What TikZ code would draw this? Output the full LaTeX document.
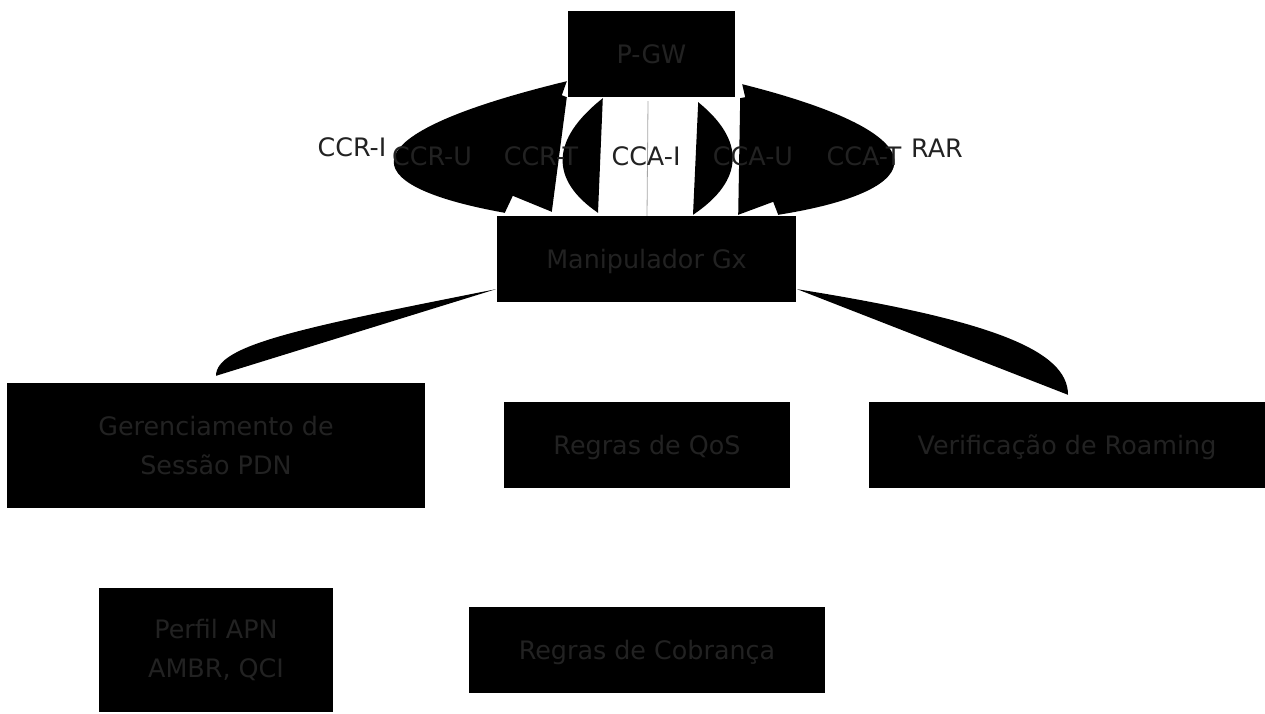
\documentclass[tikz,border=0pt]{standalone}
\usepackage{fontspec}
\setmainfont{DejaVu Sans}
\usetikzlibrary{calc}
\definecolor{txtgray}{HTML}{222222}

\tikzset{
    box/.style={fill=black,draw=none,text=txtgray,align=center,inner sep=0pt},
    onebox/.style={box,text height=24.9pt,text depth=6.4pt},
    lbl/.style={text=txtgray,inner sep=0pt},
    flow/.style={fill=black,draw=none},
}

\begin{document}
\begin{tikzpicture}[x=1pt,y=-1pt,font=\fontsize{25.4}{38.1}\selectfont]
    \useasboundingbox (0,0) rectangle (1265,713);
    %Knoten
    \node[onebox,minimum width=167,minimum height=86] (pgw) at (651.5,54) {P-GW};
    \node[onebox,minimum width=299,minimum height=86] (gx) at (646.5,259) {Manipulador Gx};
    \node[box,minimum width=418,minimum height=125] (sess) at (216,445.5) {Gerenciamento de\\Sessão PDN};
    \node[onebox,minimum width=286,minimum height=86] (qos) at (647,445) {Regras de QoS};
    \node[onebox,minimum width=396,minimum height=86] (roam) at (1067,445) {Verificação de Roaming};
    \node[box,minimum width=234,minimum height=124] (apn) at (216,650) {Perfil APN\\AMBR, QCI};
    \node[onebox,minimum width=356,minimum height=86] (cob) at (647,650) {Regras de Cobrança};

    %P-GW <-> Gx
    \fill[flow] ($(pgw.south west)+(-1,-16)$) -- ($(pgw.south west)+(-6,-2)$) -- ($(pgw.south west)+(-1,0)$)
        -- ($(gx.north west)+(55,-4)$) -- ($(gx.north west)+(16,-20)$) -- ($(gx.north west)+(8,-3)$)
        .. controls (350,185) and (345,135) .. ($(pgw.south west)+(-1,-16)$) -- cycle;
    \fill[flow] ($(pgw.south west)+(35,1)$) .. controls (550,140) and (550,180) .. ($(gx.north)+(-48.5,-3)$) -- cycle;
    \draw[gray!70,line width=0.8] ($(gx.north)+(0.5,0)$) -- ($(pgw.south)+(-3.5,4)$);
    \fill[flow] ($(pgw.south east)+(-37,5)$) .. controls (745,140) and (745,180) .. ($(gx.north)+(46.5,-1)$) -- cycle;
    \fill[flow] ($(pgw.south east)+(7,-13)$) -- ($(pgw.south east)+(10,0)$) -- ($(pgw.south east)+(5,1)$)
        -- ($(gx.north east)+(-58,-1)$) -- ($(gx.north east)+(-23,-14)$) -- ($(gx.north east)+(-18,-1)$)
        .. controls (934,190) and (944,135) .. ($(pgw.south east)+(7,-13)$) -- cycle;

    %Gx -> unten
    \fill[flow] ($(gx.south west)+(-1,-13)$) .. controls (300,328) and (216,345) .. ($(sess.north)+(0,-7)$) -- cycle;
    \fill[flow] ($(gx.south east)+(1,-13)$) .. controls (990,320) and (1068,350) .. ($(roam.north)+(1,-7)$) -- cycle;

    %Beschriftungen
    \node[lbl] (ccri) at (352,147) {CCR-I};
    \node[lbl] (ccru) at (432,156) {CCR-U};
    \node[lbl] (ccrt) at (541,156) {CCR-T};
    \node[lbl] (ccai) at (646,156) {CCA-I};
    \node[lbl] (ccau) at (753,156) {CCA-U};
    \node[lbl] (ccat) at (864,156) {CCA-T};
    \node[lbl] (rar) at (937,148) {RAR};
\end{tikzpicture}
\end{document}
